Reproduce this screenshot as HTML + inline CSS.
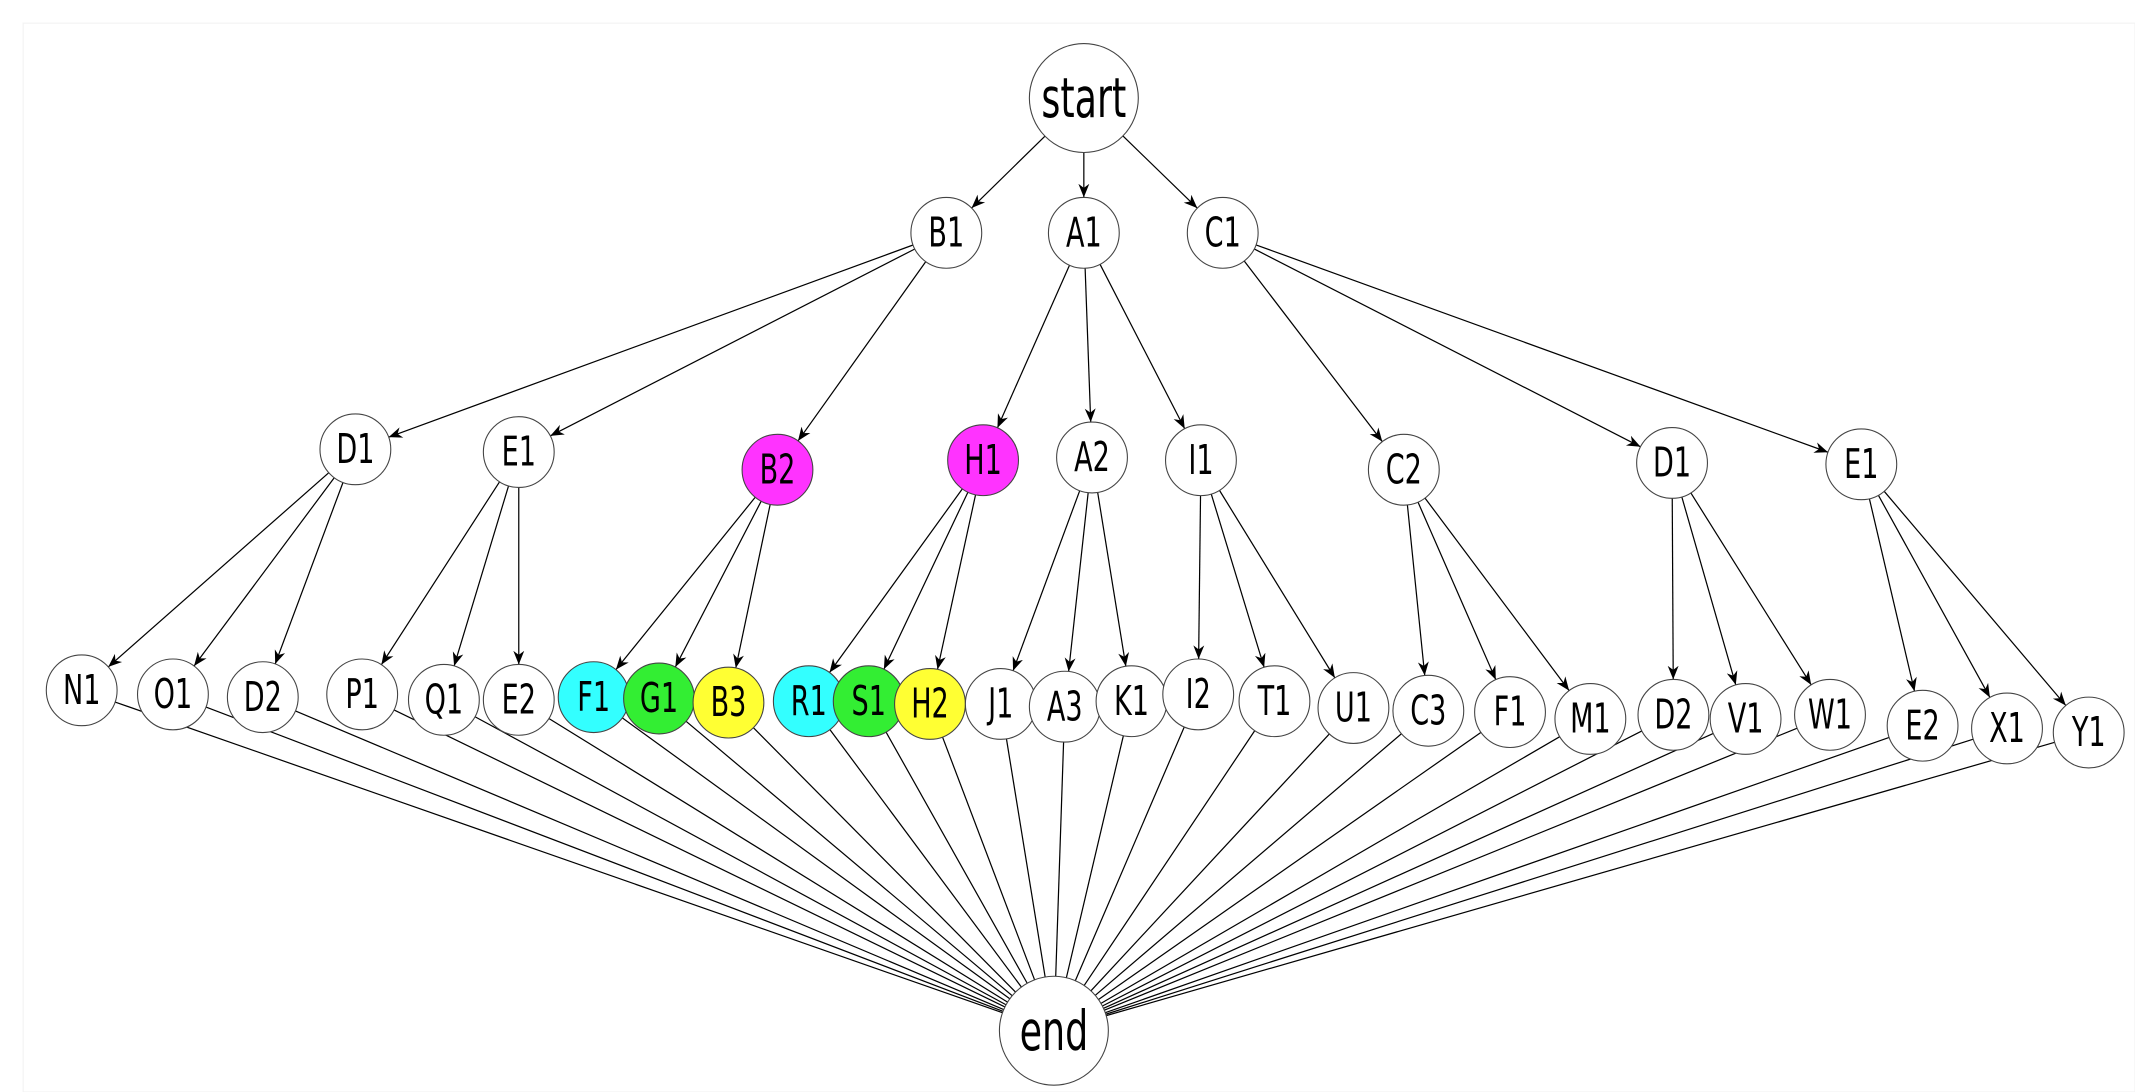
<!DOCTYPE html>
<html><head><meta charset="utf-8"><style>
html,body{margin:0;padding:0;background:#fff;}
svg{display:block;}
text{font-family:"DejaVu Sans Condensed","DejaVu Sans","Liberation Sans",sans-serif;}
</style></head><body>
<svg id="g" width="2135" height="1092" viewBox="0 0 1568 802" preserveAspectRatio="none" xmlns="http://www.w3.org/2000/svg">
<defs><marker id="ah" viewBox="0 0 10 10" refX="10" refY="5" markerWidth="10" markerHeight="10" markerUnits="userSpaceOnUse" orient="auto"><path d="M0,1 L10,5 L0,9 L3,5 Z" fill="#000"/></marker></defs>
<rect x="17" y="17" width="1551" height="785" fill="#fff" stroke="#f4f4f4"/>
<g id="edges"></g><g id="nodes"></g>
</svg>
<script>
const nodeIds = ["start","B1","A1","C1","D1a","E1a","B2","H1","A2","I1","C2","D1b","E1b",
"N1","O1","D2a","P1","Q1","E2a","F1a","G1","B3","R1","S1","H2","J1","A3","K1","I2","T1","U1","C3","F1b","M1","D2b","V1","W1","E2b","X1","Y1","end"];
const nodeLabels = ["start","B1","A1","C1","D1","E1","B2","H1","A2","I1","C2","D1","E1",
"N1","O1","D2","P1","Q1","E2","F1","G1","B3","R1","S1","H2","J1","A3","K1","I2","T1","U1","C3","F1","M1","D2","V1","W1","E2","X1","Y1","end"];
const nodeX = [796,695,796,898,261,381,571,722,802,882,1031,1228,1367,
60,127,193,266,326,381,436,484,535,594,638,683,735,782,831,880,936,994,1049,1109,1168,1229,1282,1344,1412,1474,1534,774];
const nodeY = [72,171,171,171,330,332,345,338,336,338,345,340,341,
507,510,512,510,514,514,512,513,516,515,515,517,517,519,515,510,515,520,522,523,528,525,528,525,533,535,538,757];
const fills = {B2:"#ff33ff",H1:"#ff33ff",F1a:"#33ffff",R1:"#33ffff",G1:"#33ee33",S1:"#33ee33",B3:"#ffff33",H2:"#ffff33"};
const edgeFrom = ["start","start","start","B1","B1","B1","A1","A1","A1","C1","C1","C1",
"D1a","D1a","D1a","E1a","E1a","E1a","B2","B2","B2","H1","H1","H1","A2","A2","A2","I1","I1","I1","C2","C2","C2","D1b","D1b","D1b","E1b","E1b","E1b"];
const edgeTo = ["B1","A1","C1","D1a","E1a","B2","H1","A2","I1","C2","D1b","E1b",
"N1","O1","D2a","P1","Q1","E2a","F1a","G1","B3","R1","S1","H2","J1","A3","K1","I2","T1","U1","C3","F1b","M1","D2b","V1","W1","E2b","X1","Y1"];
const leafIds = nodeIds.slice(13,40);
const NS="http://www.w3.org/2000/svg";
const rad = id => (id==="start"||id==="end") ? 40 : 26;
const idx = id => nodeIds.indexOf(id);
const eg=document.getElementById("edges"), ng=document.getElementById("nodes");
function drawEdge(a,b,arrow){
  const i=idx(a), j=idx(b);
  const x1=nodeX[i],y1=nodeY[i],x2=nodeX[j],y2=nodeY[j];
  const dx=x2-x1, dy=y2-y1, d=Math.hypot(dx,dy);
  const l=document.createElementNS(NS,"line");
  l.setAttribute("x1",x1+dx/d*rad(a)); l.setAttribute("y1",y1+dy/d*rad(a));
  l.setAttribute("x2",x2-dx/d*rad(b)); l.setAttribute("y2",y2-dy/d*rad(b));
  l.setAttribute("stroke","#000"); l.setAttribute("stroke-width","0.9");
  if(arrow) l.setAttribute("marker-end","url(#ah)");
  
  
  eg.appendChild(l);
}
edgeFrom.forEach((a,k)=>drawEdge(a,edgeTo[k],true));
leafIds.forEach(id=>drawEdge(id,"end",false));
nodeIds.forEach((id,i)=>{
  const g=document.createElementNS(NS,"g");
  
  
  const c=document.createElementNS(NS,"circle");
  c.setAttribute("cx",nodeX[i]); c.setAttribute("cy",nodeY[i]); c.setAttribute("r",rad(id));
  c.setAttribute("fill",fills[id]||"#fff"); c.setAttribute("stroke","#444"); c.setAttribute("stroke-width","0.8");
  g.appendChild(c);
  const t=document.createElementNS(NS,"text");
  const big=(id==="start"||id==="end");
  t.setAttribute("transform","translate("+nodeX[i]+","+(nodeY[i]+(big?14:10))+") scale(0.85,1.15)");
  t.setAttribute("text-anchor","middle"); t.setAttribute("font-size",big?35:26);
  t.textContent=nodeLabels[i];
  g.appendChild(t);
  ng.appendChild(g);
});
</script>
</body></html>
